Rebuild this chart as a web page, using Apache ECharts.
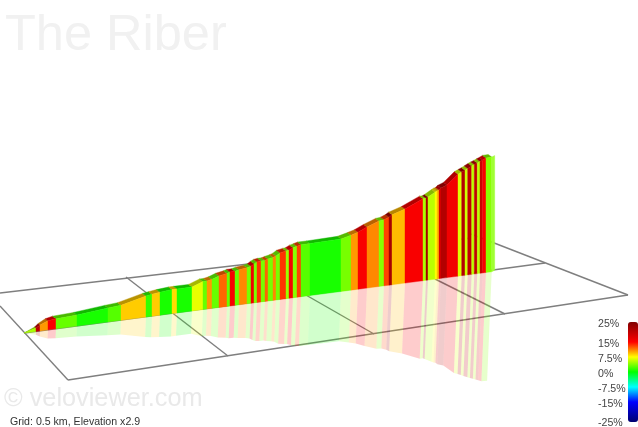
<!DOCTYPE html>
<html><head><meta charset="utf-8">
<style>html,body{margin:0;padding:0;background:#fff}#c{width:638px;height:427px}</style>
<script src="https://cdn.jsdelivr.net/npm/echarts@6/dist/echarts.min.js"></script>
</head><body><div id="c"></div>
<script>
const titleText = 'The Riber';
const watermark = '\u00a9 veloviewer.com';
const gridNote = 'Grid: 0.5 km, Elevation x2.9';
const scaleTicks = [25, 15, 7.5, 0, -7.5, -15, -25];
const stopValues = [-25, -15, -7.5, 0, 7.5, 15, 25];
const stopColors = ['#000070', '#0000ff', '#00ffff', '#00ff00', '#ffff00', '#ff0000', '#800000'];
// position along the route
const distance = [24,36,40,48,56,77,108,121,146,152,
  160,172,177,192,203,207,212,219,227,230,
  235,239,247,251,254,257,261,265,268,273,
  276,280,286,289,293,297,301,310,341,351,
  358,367,379,384,389,392,405,423,426,428,
  435,437,439,441,447,458,461.7,465,467.7,471.7,
  474.3,477.3,480,482.7,486,491.7];
// height of the profile above the ground line at each position
const elevation = [0,3.4,6,9,10,11,14,15,21,22,
  23,24,24,24,28,28,29,31.5,33,34,
  34,35,36,37,39,40.5,41,41,42,43,
  44,46.5,47.7,48,50,51,52,52,52.5,55,
  57,61,65.5,66,68,70,74,82,82,83,
  87,88,88.6,90.3,92.6,102,103.6,105,106.4,108.4,
  109.5,110.6,111.8,112.9,114.5,114.7];
// gradient (%) of each stretch
const gradient = [5,20,10.5,15.5,3,0.7,2.5,9,1.5,9,
  0.7,8.5,0.7,6.8,3,10.5,3,12,3,15.5,
  3,11,3.5,16,3.5,13.5,3.5,12,3.5,11,
  3.5,13.5,4.5,15.5,4,13,2.5,0.7,3.5,10.5,
  15.5,11,4,13,22,9.5,15.5,5,22,5.5,
  7.5,9.5,18,21,16,6.5,21,6,20,5.5,
  20,5.5,19,15.5,4];
// ground grid
const gridFromX = [0,68,0,24,126,250,435,471];
const gridFromY = [306,380,293,333,277,263,279,234];
const gridToX = [68,628,471,545,228,374,505,628];
const gridToY = [380,295,238,263,356,334,314,295];

const groundY = x => 333 - 0.131 * (x - 24);
const rows = gradient.map((g, i) => [distance[i], elevation[i], distance[i+1], elevation[i+1], g]);
const topDX = -3.5, topDY = -2.6, capDX = 3, capDY = -1.5, mirror = 0.95, lean = 0.04;

function ramp() {
  const out = [];
  for (let v = -25; v <= 25; v += 1.25) {
    let k = 0;
    while (k < stopValues.length - 2 && v > stopValues[k+1]) k++;
    const t = (v - stopValues[k]) / (stopValues[k+1] - stopValues[k]);
    out.push(echarts.color.lerp(t, [stopColors[k], stopColors[k+1]]));
  }
  return out;
}
function shade(c, k) {
  const p = echarts.color.parse(c);
  const f = v => Math.round(k <= 1 ? v * k : v + (255 - v) * (k - 1));
  return 'rgb(' + f(p[0]) + ',' + f(p[1]) + ',' + f(p[2]) + ')';
}
function quad(pts, color) {
  return {type:'polygon', shape:{points:pts}, style:{fill:color, stroke:color, lineWidth:0.4}};
}
function face(p, api) {
  const x0=api.value(0),h0=api.value(1),x1=api.value(2),h1=api.value(3);
  const c=api.visual('color');
  const a=api.coord([x0,groundY(x0)-h0]), b=api.coord([x1,groundY(x1)-h1]),
        d=api.coord([x1,groundY(x1)]), e=api.coord([x0,groundY(x0)]);
  const children=[quad([a,b,d,e],c)];
  if (p.dataIndex===rows.length-1) {
    children.push(quad([b,[b[0]+capDX,b[1]+capDY],[d[0]+capDX,d[1]+capDY],d], shade(c,1.2)));
  }
  return {type:'group',children};
}
function topBand(p, api) {
  const x0=api.value(0),h0=api.value(1),x1=api.value(2),h1=api.value(3);
  const c=shade(api.visual('color'),0.72);
  const a=api.coord([x0,groundY(x0)-h0]), b=api.coord([x1,groundY(x1)-h1]);
  const w0=Math.min(1,(x0-distance[0])/30), w1=Math.min(1,(x1-distance[0])/30);
  return quad([a,b,[b[0]+topDX*w1,b[1]+topDY*w1],[a[0]+topDX*w0,a[1]+topDY*w0]],c);
}
function reflection(p, api) {
  const x0=api.value(0),h0=api.value(1),x1=api.value(2),h1=api.value(3);
  const c=api.visual('color');
  const pts=[api.coord([x0,groundY(x0)]),api.coord([x1,groundY(x1)]),
    api.coord([x1-h1*lean,groundY(x1)+h1*mirror]),api.coord([x0-h0*lean,groundY(x0)+h0*mirror])];
  return {type:'polygon',shape:{points:pts},style:{fill:c,opacity:0.2}};
}
function gridLine(p, api) {
  const a=api.coord([api.value(0),api.value(1)]), b=api.coord([api.value(2),api.value(3)]);
  return {type:'line',shape:{x1:a[0],y1:a[1],x2:b[0],y2:b[1]},style:{stroke:'#7f7f7f',lineWidth:1.4}};
}
const noAxis = {show:false};
const chart = echarts.init(document.getElementById('c'), null, {renderer:'canvas'});
chart.setOption({
  animation:false,
  backgroundColor:'#fff',
  title:[
    {text:titleText,left:5,top:11,padding:0,textStyle:{fontFamily:'Liberation Sans',fontWeight:'normal',fontSize:50.5,color:'#f1f1f1'}},
    {text:watermark,left:4,top:387,padding:0,textStyle:{fontFamily:'Liberation Sans',fontWeight:'normal',fontSize:25.3,color:'#e9e9e9'}},
    {text:gridNote,left:10,top:417,padding:0,textStyle:{fontFamily:'Liberation Sans',fontWeight:'normal',fontSize:10.6,color:'#333'}}
  ],
  grid:[
    {left:0,top:0,width:638,height:427,containLabel:false,outerBoundsMode:'none'},
    {left:598,top:324,width:30,height:99.5,containLabel:false,outerBoundsMode:'none'}
  ],
  xAxis:[
    Object.assign({type:'value',min:0,max:638,gridIndex:0},noAxis),
    Object.assign({type:'value',min:0,max:1,gridIndex:1},noAxis)
  ],
  yAxis:[
    Object.assign({type:'value',min:0,max:427,inverse:true,gridIndex:0},noAxis),
    {type:'value',min:-25,max:25,gridIndex:1,position:'left',
     axisLine:{show:false},axisTick:{show:false},splitLine:{show:false},
     axisLabel:{inside:true,margin:0,customValues:scaleTicks,formatter:v=>v+'%',
       alignMinLabel:'left',alignMaxLabel:'left',verticalAlignMinLabel:'middle',verticalAlignMaxLabel:'middle',
       fontFamily:'Liberation Sans',fontSize:10.6,color:'#444'}}
  ],
  visualMap:{type:'continuous',min:-25,max:25,dimension:4,seriesIndex:[1,2,3],
    left:628,top:322,itemWidth:10,itemHeight:100,padding:0,text:null,showLabel:false,calculable:false,hoverLink:false,
    inRange:{color:ramp()}},
  series:[
    {type:'custom',coordinateSystem:'cartesian2d',silent:true,z:1,renderItem:gridLine,
      data:gridFromX.map((x,i)=>[x,gridFromY[i],gridToX[i],gridToY[i]])},
    {type:'custom',coordinateSystem:'cartesian2d',silent:true,z:2,renderItem:reflection,data:rows},
    {type:'custom',coordinateSystem:'cartesian2d',silent:true,z:3,renderItem:topBand,data:rows},
    {type:'custom',coordinateSystem:'cartesian2d',silent:true,z:4,renderItem:face,data:rows}
  ]
});
</script></body></html>
